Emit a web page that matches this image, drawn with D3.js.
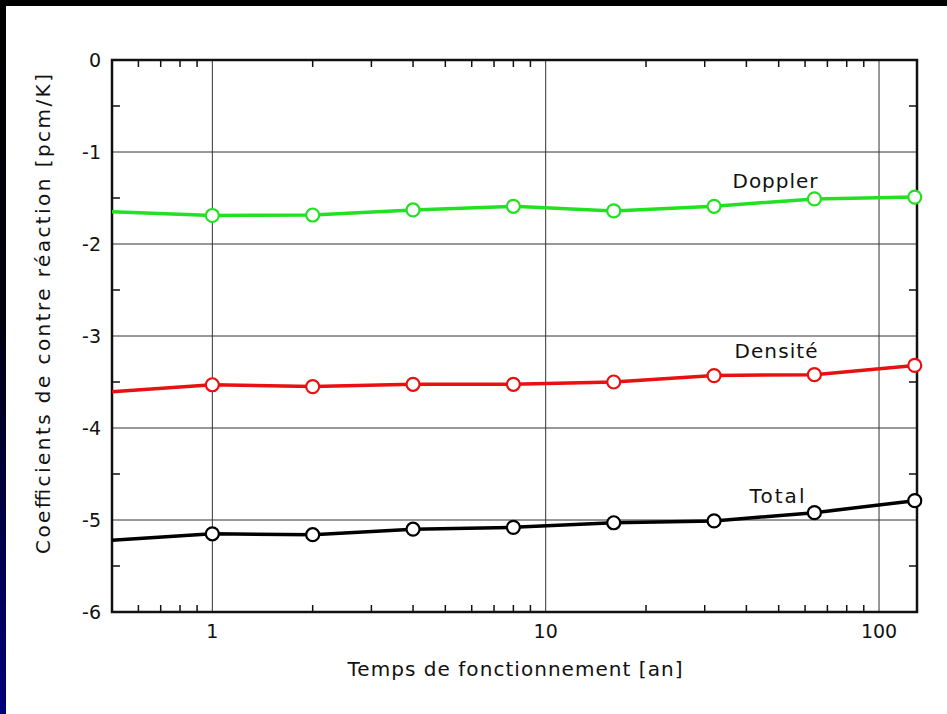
<!DOCTYPE html>
<html>
<head>
<meta charset="utf-8">
<script src="https://cdn.jsdelivr.net/npm/d3@7"></script>
<style>
  html, body { margin: 0; padding: 0; background: #000; }
  svg { display: block; }
  text { font-family: "Comic Sans MS", "DejaVu Sans", sans-serif; fill: #111; }
</style>
</head>
<body>
<svg id="chart" width="947" height="714"></svg>
<script>
// time points [an]
const years = [0.5, 1, 2, 4, 8, 16, 32, 64, 128];
const doppler = [-1.65, -1.69, -1.685, -1.63, -1.59, -1.64, -1.59, -1.51, -1.49];
const densite = [-3.605, -3.53, -3.55, -3.525, -3.525, -3.50, -3.43, -3.42, -3.32];
const total = [-5.22, -5.15, -5.16, -5.10, -5.08, -5.03, -5.01, -4.92, -4.79];
const yTicks = [0, -1, -2, -3, -4, -5, -6];
const xTicks = [1, 10, 100];

const series = [
  { name: "Doppler", values: doppler, color: "#22e022", label: [775, 188, 85] },
  { name: "Densité", values: densite, color: "#e81010", label: [776, 358, 83] },
  { name: "Total", values: total, color: "#000", label: [777, 503, 55] }
];

const svg = d3.select("#chart");
const width = +svg.attr("width"), height = +svg.attr("height");

// slide background: black, blueish left edge
const defs = svg.append("defs");
const grad = defs.append("linearGradient").attr("id", "edge")
  .attr("x1", 0).attr("y1", 0).attr("x2", 0).attr("y2", 1);
grad.append("stop").attr("offset", "0%").attr("stop-color", "#000");
grad.append("stop").attr("offset", "45%").attr("stop-color", "#000010");
grad.append("stop").attr("offset", "100%").attr("stop-color", "#00007a");
svg.append("rect").attr("width", width).attr("height", height).attr("fill", "#000");
svg.append("rect").attr("width", 6).attr("height", height).attr("fill", "url(#edge)");
svg.append("rect").attr("x", 6).attr("y", 6).attr("width", width - 6).attr("height", height - 6).attr("fill", "#fff");

const mLeft = 112, mRight = 917, mTop = 60, mBottom = 612;

const x = d3.scaleLog().domain([0.5, 130]).range([mLeft, mRight]);
const y = d3.scaleLinear().domain([-6, 0]).range([mBottom, mTop]);

// grid
const grid = svg.append("g").attr("stroke", "#333").attr("stroke-width", 1);
grid.selectAll(".gy").data(yTicks.slice(1, -1)).join("line")
  .attr("x1", mLeft).attr("x2", mRight)
  .attr("y1", d => y(d)).attr("y2", d => y(d));
grid.selectAll(".gx").data(xTicks).join("line")
  .attr("x1", d => x(d)).attr("x2", d => x(d))
  .attr("y1", mTop).attr("y2", mBottom);

// minor ticks, inward
const xMinor = [];
for (let dec of [0.1, 1, 10, 100]) for (let k = 2; k <= 9; k++) {
  const v = +(dec * k).toPrecision(3);
  if (v > 0.5 && v < 130 && !xTicks.includes(v)) xMinor.push(v);
}
const yMinor = d3.range(-5.5, 0, 1);
const ticks = svg.append("g").attr("stroke", "#111").attr("stroke-width", 1.5);
ticks.selectAll(".xb").data(xMinor).join("line")
  .attr("x1", d => x(d)).attr("x2", d => x(d)).attr("y1", mBottom).attr("y2", mBottom - 7);
ticks.selectAll(".xt").data(xMinor).join("line")
  .attr("x1", d => x(d)).attr("x2", d => x(d)).attr("y1", mTop).attr("y2", mTop + 7);
ticks.selectAll(".yl").data(yMinor).join("line")
  .attr("x1", mLeft).attr("x2", mLeft + 8).attr("y1", d => y(d)).attr("y2", d => y(d));
ticks.selectAll(".yr").data(yMinor).join("line")
  .attr("x1", mRight).attr("x2", mRight - 8).attr("y1", d => y(d)).attr("y2", d => y(d));

// frame
svg.append("rect").attr("x", mLeft).attr("y", mTop)
  .attr("width", mRight - mLeft).attr("height", mBottom - mTop)
  .attr("fill", "none").attr("stroke", "#111").attr("stroke-width", 2.5);

// tick labels
svg.append("g").selectAll("text").data(yTicks).join("text")
  .attr("x", mLeft - 11).attr("y", d => y(d)).attr("dy", "0.35em")
  .attr("text-anchor", "end").attr("font-size", 19).text(d => d);
svg.append("g").selectAll("text").data(xTicks).join("text")
  .attr("x", d => x(d)).attr("y", mBottom + 26)
  .attr("text-anchor", "middle").attr("font-size", 19).text(d => d);

// axis titles
svg.append("text").attr("x", 515).attr("y", 676)
  .attr("text-anchor", "middle").attr("font-size", 20)
  .attr("textLength", 335).attr("lengthAdjust", "spacing")
  .text("Temps de fonctionnement [an]");
svg.append("text").attr("transform", "translate(50,314) rotate(-90)")
  .attr("text-anchor", "middle").attr("font-size", 20)
  .attr("textLength", 480).attr("lengthAdjust", "spacing")
  .text("Coefficients de contre réaction [pcm/K]");

// series
const line = d3.line().x(d => x(d[0])).y(d => y(d[1]));
series.forEach(s => {
  const pts = years.map((t, i) => [t, s.values[i]]);
  svg.append("path").datum(pts)
    .attr("d", line).attr("fill", "none")
    .attr("stroke", s.color).attr("stroke-width", 3.5);
  svg.append("g").selectAll("circle").data(pts.slice(1)).join("circle")
    .attr("cx", d => x(d[0])).attr("cy", d => y(d[1])).attr("r", 6.5)
    .attr("fill", "#fff").attr("stroke", s.color).attr("stroke-width", 2.2);
  svg.append("text").attr("x", s.label[0]).attr("y", s.label[1])
    .attr("text-anchor", "middle").attr("font-size", 20)
    .attr("textLength", s.label[2]).attr("lengthAdjust", "spacing")
    .text(s.name);
});
</script>
</body>
</html>
